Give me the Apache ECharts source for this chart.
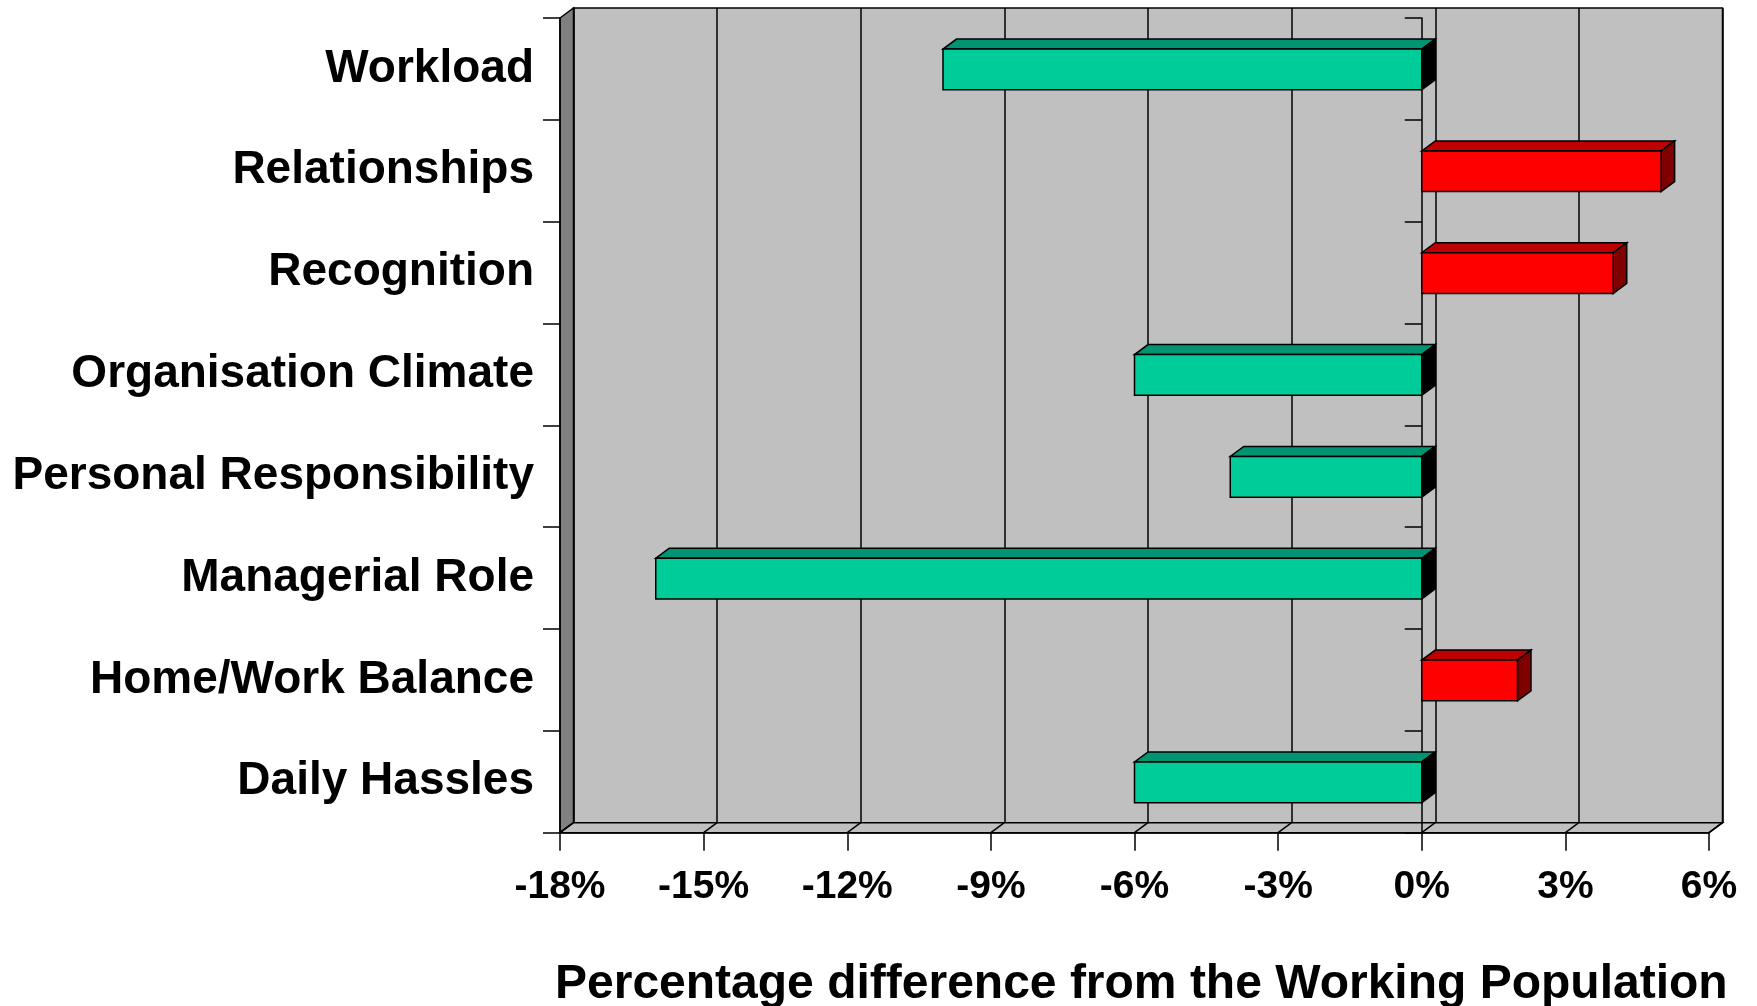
<!DOCTYPE html>
<html>
<head>
<meta charset="utf-8">
<script src="https://cdn.jsdelivr.net/npm/echarts@6/dist/echarts.min.js"></script>
<style>
  html, body { margin: 0; padding: 0; background: #ffffff; }
  #chart { width: 1757px; height: 1006px; }
</style>
</head>
<body>
<div id="chart"></div>
<script>
// Stress-factor scores, percentage difference from the working population
const categories = [
  'Workload',
  'Relationships',
  'Recognition',
  'Organisation Climate',
  'Personal Responsibility',
  'Managerial Role',
  'Home/Work Balance',
  'Daily Hassles'
];
const values = [-10, 5, 4, -6, -4, -16, 2, -6];
const xTickValues = [-18, -15, -12, -9, -6, -3, 0, 3, 6];
const axisTitle = 'Percentage difference from the Working Population';

const FONT = '"Liberation Sans", Arial, Helvetica, sans-serif';
// Oblique depth of the pseudo-3D frame and bars
const DX = 13.5, DY = -10;
const EDGE = '#000000';
const LW = 1.5;

const chart = echarts.init(document.getElementById('chart'), null, { renderer: 'canvas' });

// Walls/floor of the 3D frame, drawn in the front grid
function renderFrame(params, api) {
  const cs = params.coordSys;
  const x0 = cs.x, y0 = cs.y, x1 = cs.x + cs.width, y1 = cs.y + cs.height;
  const children = [];
  // left side wall
  children.push({
    type: 'polygon',
    shape: { points: [[x0, y0], [x0 + DX, y0 + DY], [x0 + DX, y1 + DY], [x0, y1]] },
    style: { fill: '#808080', stroke: EDGE, lineWidth: LW }
  });
  // floor
  children.push({
    type: 'polygon',
    shape: { points: [[x0, y1], [x0 + DX, y1 + DY], [x1 + DX, y1 + DY], [x1, y1]] },
    style: { fill: '#C0C0C0', stroke: EDGE, lineWidth: LW }
  });
  // floor gridlines running back from each tick
  xTickValues.forEach(function (t) {
    const px = api.coord([t, 0])[0];
    children.push({
      type: 'line',
      shape: { x1: px, y1: y1, x2: px + DX, y2: y1 + DY },
      style: { stroke: EDGE, lineWidth: LW }
    });
  });
  return { type: 'group', children: children };
}

// One extruded bar: front face, top face and end face
function renderBar(params, api) {
  const v = api.value(0);
  const ci = api.value(1);
  const pZero = api.coord([0, ci]);
  const pVal = api.coord([v, ci]);
  const band = api.size([0, 1])[1];
  const h = band * 0.4;
  const yt = pZero[1] - h / 2 + 0.5;
  const yb = yt + h;
  const xl = Math.min(pZero[0], pVal[0]);
  const xr = Math.max(pZero[0], pVal[0]);
  const pos = v >= 0;
  const front = pos ? '#FF0000' : '#00CC99';
  const top = pos ? '#BF0000' : '#009473';
  const side = pos ? '#800000' : '#000000';
  return {
    type: 'group',
    children: [
      {
        type: 'polygon',
        shape: { points: [[xl, yt], [xr, yt], [xr + DX, yt + DY], [xl + DX, yt + DY]] },
        style: { fill: top, stroke: EDGE, lineWidth: LW }
      },
      {
        type: 'polygon',
        shape: { points: [[xr, yt], [xr + DX, yt + DY], [xr + DX, yb + DY], [xr, yb]] },
        style: { fill: side, stroke: EDGE, lineWidth: LW }
      },
      {
        type: 'rect',
        shape: { x: xl, y: yt, width: xr - xl, height: h },
        style: { fill: front, stroke: EDGE, lineWidth: LW }
      }
    ]
  };
}

const frontGrid = { left: 560, right: 48, top: 18, bottom: 173.3 };
const backGrid = {
  left: frontGrid.left + DX,
  right: frontGrid.right - DX,
  top: frontGrid.top + DY,
  bottom: frontGrid.bottom - DY
};

const option = {
  backgroundColor: '#ffffff',
  animation: false,
  grid: [
    Object.assign({ containLabel: false }, frontGrid),
    Object.assign({
      containLabel: false,
      show: true,
      backgroundColor: '#C0C0C0',
      borderColor: EDGE,
      borderWidth: LW
    }, backGrid)
  ],
  xAxis: [
    {
      type: 'value',
      gridIndex: 0,
      min: -18, max: 6, interval: 3,
      axisLine: { show: true, lineStyle: { color: EDGE, width: LW } },
      axisTick: { show: true, length: 18, lineStyle: { color: EDGE, width: LW } },
      axisLabel: {
        show: true,
        margin: 35,
        formatter: function (v) { return v + '%'; },
        fontFamily: FONT, fontWeight: 'bold', fontSize: 39, color: '#000000'
      },
      splitLine: { show: false },
      z: 1.5
    },
    {
      type: 'value',
      gridIndex: 1,
      min: -18, max: 6, interval: 3,
      axisLine: { show: false },
      axisTick: { show: false },
      axisLabel: { show: false },
      splitLine: { show: true, lineStyle: { color: EDGE, width: LW } }
    }
  ],
  yAxis: [
    {
      type: 'category',
      gridIndex: 0,
      data: categories,
      inverse: true,
      position: 'left',
      axisLine: { show: true, onZero: false, lineStyle: { color: EDGE, width: LW } },
      axisTick: { show: true, length: 17, lineStyle: { color: EDGE, width: LW } },
      axisLabel: {
        show: true,
        margin: 26,
        padding: [8, 0, 0, 0],
        fontFamily: FONT, fontWeight: 'bold', fontSize: 46, color: '#000000'
      },
      splitLine: { show: false },
      z: 1.5
    },
    {
      type: 'category',
      gridIndex: 1,
      data: categories,
      inverse: true,
      show: false
    },
    {
      type: 'category',
      gridIndex: 0,
      data: categories,
      inverse: true,
      position: 'left',
      axisLine: { show: true, onZero: true, lineStyle: { color: EDGE, width: LW } },
      axisTick: { show: true, length: 17, lineStyle: { color: EDGE, width: LW } },
      axisLabel: { show: false },
      splitLine: { show: false },
      z: 1.5
    }
  ],
  graphic: [
    {
      type: 'text',
      left: 555,
      top: 961,
      style: {
        text: axisTitle,
        font: 'bold 48px ' + FONT,
        fill: '#000000'
      }
    }
  ],
  series: [
    {
      type: 'custom',
      name: 'frame',
      xAxisIndex: 0,
      yAxisIndex: 0,
      z: 1,
      silent: true,
      renderItem: renderFrame,
      data: [[0, categories[0]]],
      encode: { x: 0, y: 1 }
    },
    {
      type: 'custom',
      name: 'difference',
      xAxisIndex: 0,
      yAxisIndex: 0,
      z: 2,
      renderItem: renderBar,
      data: values.map(function (v, i) { return [v, categories[i]]; }),
      encode: { x: 0, y: 1 }
    }
  ]
};

chart.setOption(option);
</script>
</body>
</html>
